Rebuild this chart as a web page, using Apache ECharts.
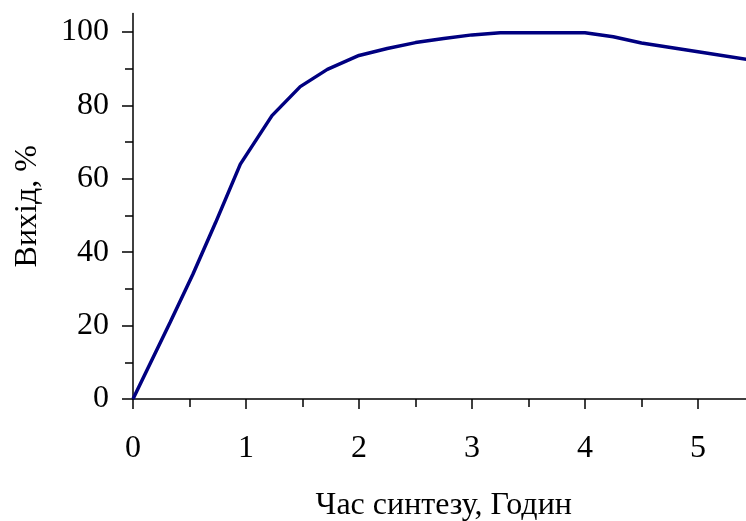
<!DOCTYPE html>
<html>
<head>
<meta charset="utf-8">
<script src="https://cdn.jsdelivr.net/npm/echarts@6/dist/echarts.min.js"></script>
<style>
  html, body { margin: 0; padding: 0; background: #ffffff; }
  #chart { width: 746px; height: 521px; }
</style>
</head>
<body>
<div id="chart"></div>
<script>
// Synthesis time, hours
const hours = [0, 0.33, 0.53, 0.73, 0.95, 1.23, 1.48, 1.72, 2.0, 2.25, 2.5, 2.75, 3.0, 3.25, 4.0, 4.25, 4.5, 5.0, 5.5];
// Product yield, %
const yieldPct = [0, 21, 34, 48, 64, 77.2, 85.1, 89.8, 93.6, 95.5, 97.1, 98.2, 99.2, 99.8, 99.8, 98.7, 97.0, 94.6, 92.2];

const xMajorTicks = [0, 1, 2, 3, 4, 5];
const xMinorTicks = [0.5, 1.5, 2.5, 3.5, 4.5];
const yMajorTicks = [0, 20, 40, 60, 80, 100];
const yMinorTicks = [10, 30, 50, 70, 90];

const FONT = '"Liberation Serif", "Times New Roman", serif';
const INK = '#000000';
const FS = 32;

const chart = echarts.init(document.getElementById('chart'), null, { renderer: 'canvas' });

const xRange = { min: 0, max: 5.5 };
const yRange = { min: 0, max: 105 };

chart.setOption({
  backgroundColor: '#ffffff',
  animation: false,
  grid: {
    left: 133, top: 13.6, right: -8.5, bottom: 122,
    containLabel: false,
    outerBoundsMode: 'none'
  },
  xAxis: [
    {
      type: 'value', ...xRange, position: 'bottom',
      name: 'Час синтезу, Годин',
      nameLocation: 'middle',
      nameGap: 91,
      nameTextStyle: { fontFamily: FONT, fontSize: FS, color: INK },
      axisLine: { show: true, onZero: false, lineStyle: { color: INK, width: 1.5 } },
      axisTick: { show: true, length: 10, customValues: xMajorTicks, lineStyle: { color: INK, width: 1.5 } },
      axisLabel: { show: true, customValues: xMajorTicks, margin: 34, fontFamily: FONT, fontSize: FS, color: INK },
      splitLine: { show: false }
    },
    {
      // minor ticks between the hour marks
      type: 'value', ...xRange, position: 'bottom',
      axisLine: { show: false },
      axisTick: { show: true, length: 8, customValues: xMinorTicks, lineStyle: { color: INK, width: 1.5 } },
      axisLabel: { show: false },
      splitLine: { show: false }
    }
  ],
  yAxis: [
    {
      type: 'value', ...yRange, position: 'left',
      name: 'Вихід, %',
      nameLocation: 'middle',
      nameGap: 89,
      nameRotate: 90,
      nameTextStyle: { fontFamily: FONT, fontSize: FS, color: INK },
      axisLine: { show: true, onZero: false, lineStyle: { color: INK, width: 1.5 } },
      axisTick: { show: true, length: 11, customValues: yMajorTicks, lineStyle: { color: INK, width: 1.5 } },
      axisLabel: { show: true, customValues: yMajorTicks, margin: 24, fontFamily: FONT, fontSize: FS, color: INK },
      splitLine: { show: false }
    },
    {
      // minor ticks between the labelled percentages
      type: 'value', ...yRange, position: 'left',
      axisLine: { show: false },
      axisTick: { show: true, length: 8, customValues: yMinorTicks, lineStyle: { color: INK, width: 1.5 } },
      axisLabel: { show: false },
      splitLine: { show: false }
    }
  ],
  series: [
    {
      type: 'line',
      xAxisIndex: 0,
      yAxisIndex: 0,
      data: hours.map((h, i) => [h, yieldPct[i]]),
      showSymbol: false,
      smooth: false,
      clip: true,
      lineStyle: { color: '#000080', width: 3.5 }
    }
  ]
});
</script>
</body>
</html>
